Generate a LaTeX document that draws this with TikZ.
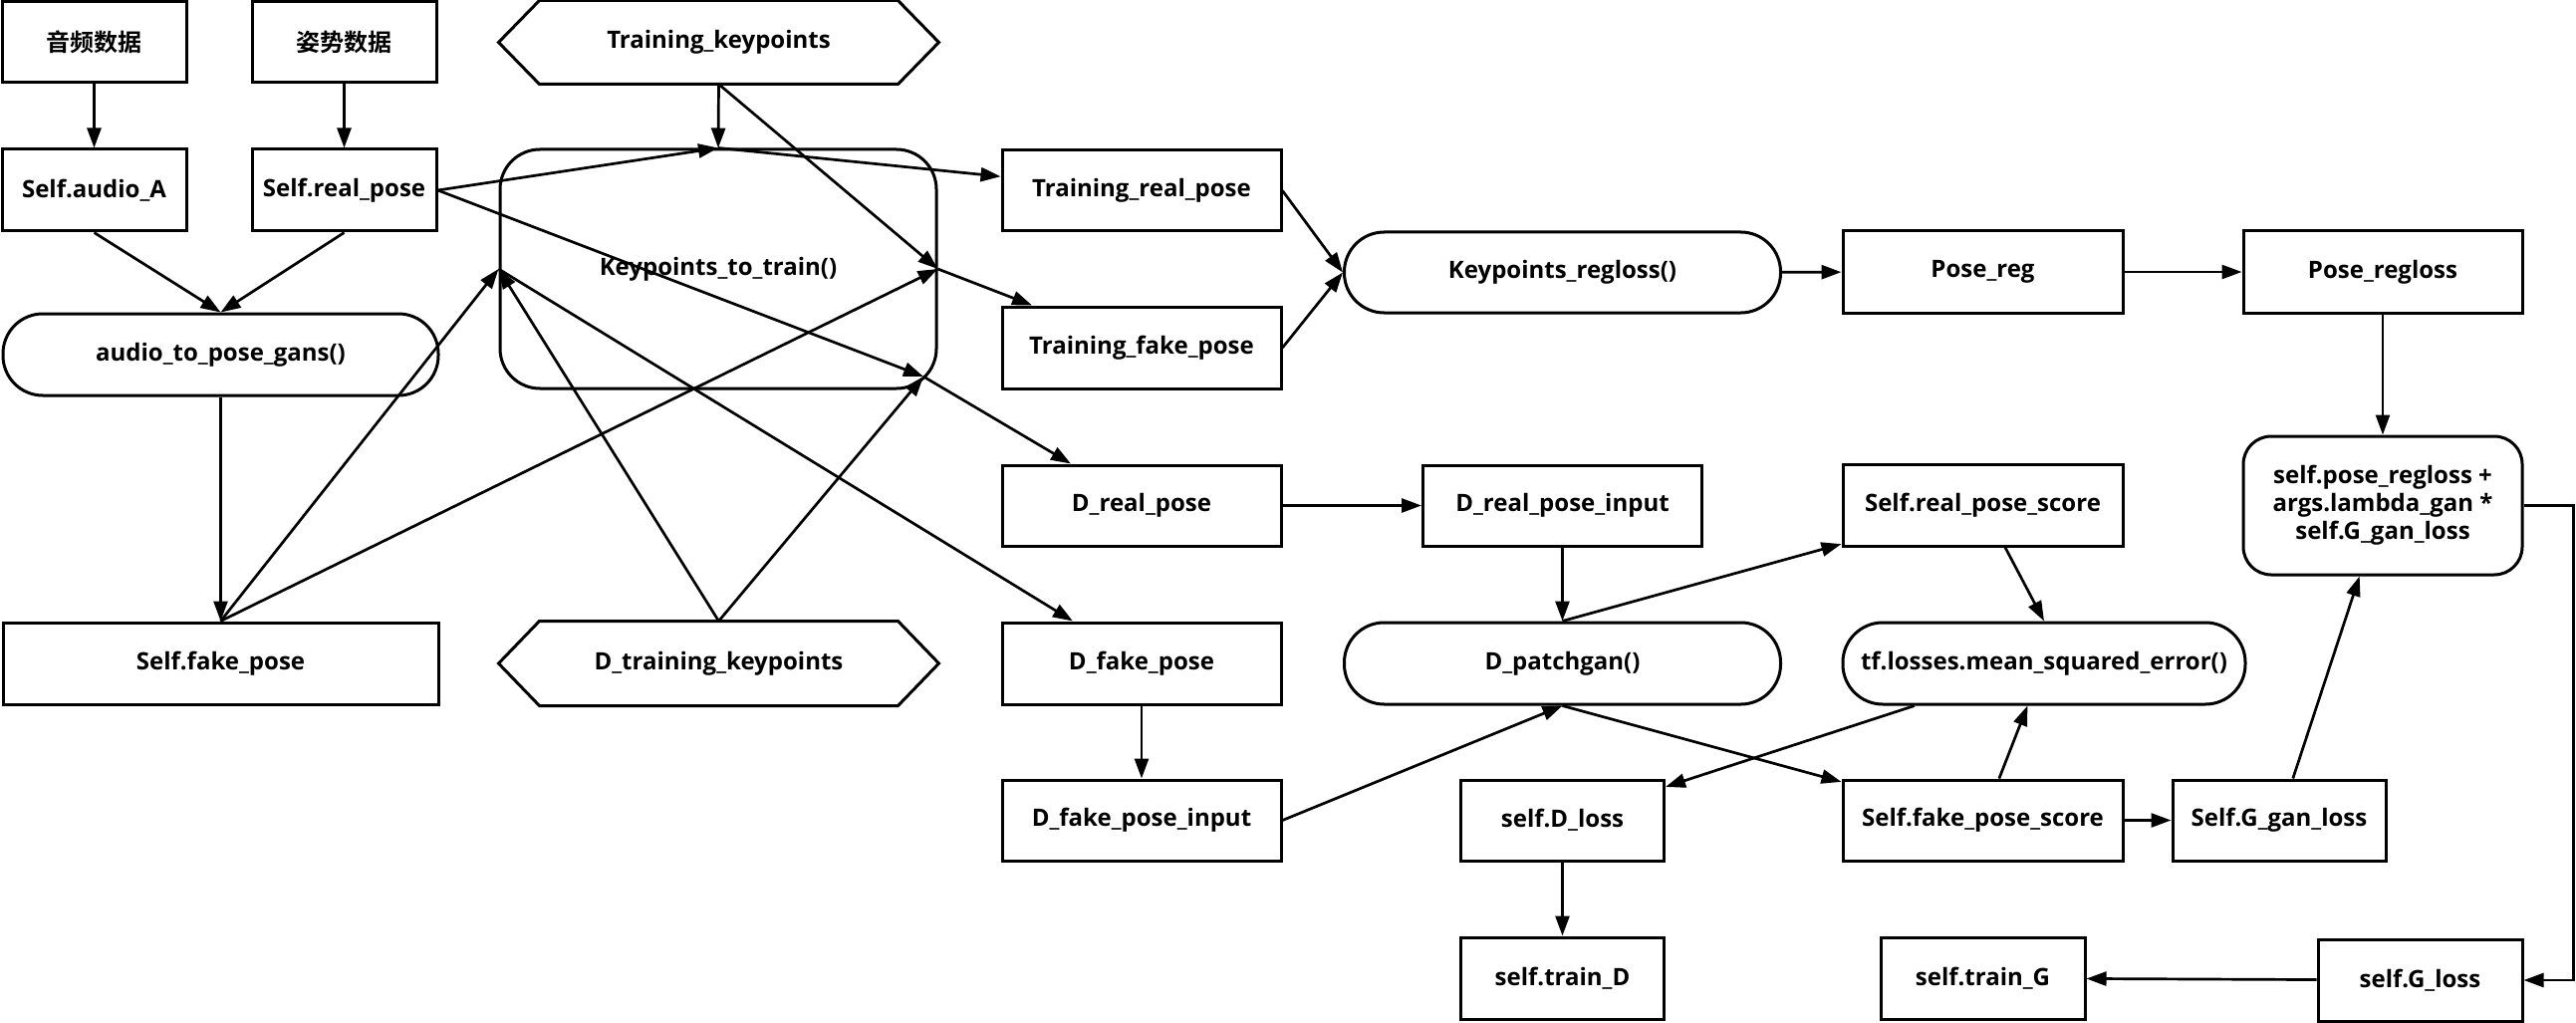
\documentclass[tikz,border=0pt]{standalone}
\usepackage{fontspec}
\setmainfont{Open Sans}
\newfontfamily\cjk{Noto Sans CJK SC}[BoldFont=* Bold]
\usetikzlibrary{arrows.meta,calc}

\begin{document}
\begin{tikzpicture}[x=1pt,y=-1pt,
  box/.style={draw, line width=3pt, inner sep=0pt, align=center,
    font=\fontsize{24}{28}\selectfont\bfseries, minimum height=82pt},
  stad/.style={box, rounded corners=40pt},
  hexa/.style={box, draw=none},
  conn/.style={line width=2.7pt, -{Triangle[length=20pt,width=14pt]}},
  hexline/.style={line width=3pt, line join=miter}
]
\fill[white] (0,0) rectangle (2586,1027);
\useasboundingbox (0,0) rectangle (2586,1027);

% ---------- input data ----------
\node[box, minimum width=185pt, minimum height=81pt] (audio) at (94.5,42.5) {\cjk 音频数据};
\node[box, minimum width=185pt, minimum height=81pt] (pose)  at (345.5,42.5) {\cjk 姿势数据};
\node[hexa, minimum width=439pt, minimum height=81pt] (tkp) at (721.5,42.5) {Training\_keypoints};

\node[box, minimum width=185pt] (audioA)   at (94.5,191)  {Self.audio\_A};
\node[box, minimum width=185pt] (realpose) at (345.5,191) {Self.real\_pose};

\node[box, rounded corners=40pt, minimum width=438pt, minimum height=240pt] (ktt) at (721,270) {Keypoints\_to\_train()};
\coordinate (kttse) at (927,378);

\node[stad, minimum width=437pt] (atpg) at (221.5,356) {audio\_to\_pose\_gans()};
\node[box, minimum width=437pt] (sfp) at (221.5,666) {Self.fake\_pose};
\node[hexa, minimum width=439pt] (dtk) at (721.5,666) {D\_training\_keypoints};

% ---------- regression branch ----------
\node[box, minimum width=280pt, minimum height=81pt] (trp) at (1146,191.5) {Training\_real\_pose};
\node[box, minimum width=280pt] (tfp) at (1146,349) {Training\_fake\_pose};
\node[stad, minimum width=438pt, minimum height=81pt] (kreg) at (1568.5,273.5) {Keypoints\_regloss()};
\node[box, minimum width=281pt] (posereg) at (1990.5,273) {Pose\_reg};
\node[box, minimum width=280pt] (poseregloss) at (2392,273) {Pose\_regloss};
\node[box, rounded corners=28pt, minimum width=280pt, minimum height=139pt] (combined) at (2392,507.5)
  {self.pose\_regloss +\\ args.lambda\_gan *\\ self.G\_gan\_loss};

% ---------- discriminator branch ----------
\node[box, minimum width=280pt, minimum height=81pt] (drp)  at (1146,507.5) {D\_real\_pose};
\node[box, minimum width=280pt, minimum height=81pt] (drpi) at (1568.5,507.5) {D\_real\_pose\_input};
\node[box, minimum width=281pt] (srps) at (1990.5,507) {Self.real\_pose\_score};

\node[box, minimum width=280pt] (dfp) at (1146,666) {D\_fake\_pose};
\node[stad, minimum width=438pt] (dpg) at (1568.5,666) {D\_patchgan()};
\node[stad, minimum width=404pt] (tfl) at (2052,666) {tf.losses.mean\_squared\_error()};

\node[box, minimum width=280pt, minimum height=81pt] (dfpi) at (1146,823.5) {D\_fake\_pose\_input};
\node[box, minimum width=204pt, minimum height=81pt] (dloss) at (1568.5,823.5) {self.D\_loss};
\node[box, minimum width=281pt, minimum height=81pt] (sfps) at (1990.5,823.5) {Self.fake\_pose\_score};
\node[box, minimum width=214pt, minimum height=81pt] (sggl) at (2288,823.5) {Self.G\_gan\_loss};

\node[box, minimum width=204pt] (traind) at (1568.5,982) {self.train\_D};
\node[box, minimum width=205pt] (traing) at (1990.5,982) {self.train\_G};
\node[box, minimum width=205pt] (gloss)  at (2429.5,984) {self.G\_loss};

% ---------- hexagon outlines ----------
\foreach \h in {tkp,dtk}{
  \draw[hexline] (\h.west) -- ($(\h.north west)+(41,0)$) -- ($(\h.north east)+(-41,0)$)
    -- (\h.east) -- ($(\h.south east)+(-41,0)$) -- ($(\h.south west)+(41,0)$) -- cycle;
}

% ---------- connectors ----------
\draw[conn] (audio) -- (audioA);
\draw[conn] (pose) -- (realpose);
\draw[conn] (tkp.south) -- (ktt.north);
\draw[conn] (tkp.south) -- (ktt.east);
\draw[conn] (realpose.east) -- (ktt.north);
\draw[conn] (realpose.east) -- (kttse);
\draw[conn] (ktt.north) -- (trp);
\draw[conn] (ktt.east) -- (tfp);
\draw[conn] (kttse) -- (drp);
\draw[conn] (ktt.west) -- (dfp);
\draw[conn] (audioA.south) -- (atpg.north);
\draw[conn] (realpose.south) -- (atpg.north);
\draw[conn] (atpg) -- (sfp);
\draw[conn] (sfp.north) -- (ktt.west);
\draw[conn] (sfp.north) -- (ktt.east);
\draw[conn] (dtk.north) -- (ktt.west);
\draw[conn] (dtk.north) -- (kttse);

\draw[conn] (trp.east) -- (kreg.west);
\draw[conn] (tfp.east) -- (kreg.west);
\draw[conn] (kreg) -- (posereg);
\draw[conn] (posereg) -- (poseregloss);
\draw[conn] (poseregloss) -- (combined);
\draw[conn] (combined.east) -- ++(50,0) |- (gloss.east);
\draw[conn] (gloss) -- (traing);

\draw[conn] (drp) -- (drpi);
\draw[conn] (drpi) -- (dpg);
\draw[conn] (dpg.north) -- (srps);
\draw[conn] (srps) -- (tfl.north);
\draw[conn] (dfp) -- (dfpi);
\draw[conn] (dfpi.east) -- (dpg.south);
\draw[conn] (dpg.south) -- (sfps);
\draw[conn] (tfl) -- (dloss);
\draw[conn] (sfps) -- (tfl);
\draw[conn] (sfps) -- (sggl);
\draw[conn] (sggl) -- (combined);
\draw[conn] (dloss) -- (traind);
\end{tikzpicture}
\end{document}
